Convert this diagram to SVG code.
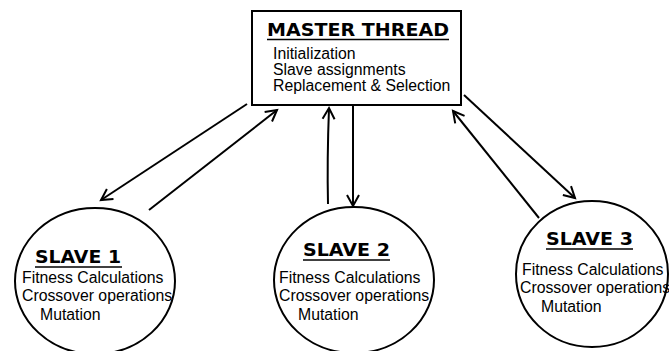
<svg xmlns="http://www.w3.org/2000/svg" width="669" height="351" viewBox="0 0 669 351">
<defs>
<marker id="ah" markerUnits="userSpaceOnUse" markerWidth="16" markerHeight="16" refX="0" refY="0" viewBox="-12 -8 14 16" orient="auto">
<path d="M-11,-6 L0,0 L-11,6" fill="none" stroke="#000" stroke-width="2" stroke-linejoin="miter"/>
</marker>
<style>
.node{fill:#fff;stroke:#000;stroke-width:2}
.t{font-family:"Liberation Sans",Arial,sans-serif;font-size:15.8px;fill:#000}
.h{font-family:"DejaVu Sans","Liberation Sans",sans-serif;font-weight:bold;font-size:18px;fill:#000}
.ul{stroke:#000;stroke-width:1.6}
.c{fill:none;stroke:#000;stroke-width:2;marker-end:url(#ah)}
</style>
</defs>
<rect width="669" height="351" fill="#fff"/>
<g id="connectors">
<line class="c" x1="247" y1="104" x2="101" y2="200"/>
<line class="c" x1="149" y1="210" x2="277" y2="110"/>
<path class="c" d="M328,204 Q327,160 329,108"/>
<line class="c" x1="353" y1="106" x2="353" y2="206"/>
<line class="c" x1="464" y1="95" x2="575" y2="198"/>
<line class="c" x1="539" y1="218" x2="453" y2="111"/>
</g>
<g id="master">
<rect class="node" x="252" y="11" width="209" height="94"/>
<text class="h" x="267" y="36" textLength="182" lengthAdjust="spacingAndGlyphs">MASTER THREAD</text>
<line class="ul" x1="267" y1="39.5" x2="449" y2="39.5"/>
<text class="t" x="273" y="59">Initialization</text>
<text class="t" x="273" y="75">Slave assignments</text>
<text class="t" x="273" y="91">Replacement &amp; Selection</text>
</g>
<g id="slave1">
<ellipse class="node" cx="95" cy="281" rx="80" ry="73"/>
<text class="h" x="35" y="263" textLength="86" lengthAdjust="spacingAndGlyphs">SLAVE 1</text>
<line class="ul" x1="35" y1="267" x2="122" y2="267"/>
<text class="t" x="22" y="283">Fitness Calculations</text>
<text class="t" x="22" y="301">Crossover operations</text>
<text class="t" x="40" y="320">Mutation</text>
</g>
<g id="slave2">
<ellipse class="node" cx="354" cy="280" rx="80" ry="73"/>
<text class="h" x="303" y="256" textLength="87" lengthAdjust="spacingAndGlyphs">SLAVE 2</text>
<line class="ul" x1="303" y1="260" x2="390" y2="260"/>
<text class="t" x="279" y="283">Fitness Calculations</text>
<text class="t" x="279" y="301">Crossover operations</text>
<text class="t" x="298" y="320">Mutation</text>
</g>
<g id="slave3">
<ellipse class="node" cx="592" cy="274" rx="76" ry="73"/>
<text class="h" x="546" y="245" textLength="87" lengthAdjust="spacingAndGlyphs">SLAVE 3</text>
<line class="ul" x1="546" y1="249" x2="633" y2="249"/>
<text class="t" x="522" y="275">Fitness Calculations</text>
<text class="t" x="520" y="293">Crossover operations</text>
<text class="t" x="541" y="312">Mutation</text>
</g>
</svg>
